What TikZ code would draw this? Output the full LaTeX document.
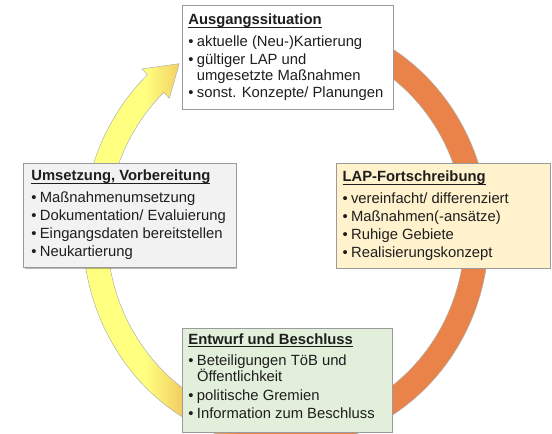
\documentclass[tikz,border=0pt]{standalone}
\usepackage{fontspec}
\setmainfont{Liberation Sans}
\usetikzlibrary{shadows}

\definecolor{ringyellow}{RGB}{255,255,128}
\definecolor{ringmid}{RGB}{242,200,96}
\definecolor{ringorange}{RGB}{233,131,74}
\definecolor{boxgray}{RGB}{242,242,242}
\definecolor{boxcream}{RGB}{255,242,204}
\definecolor{boxgreen}{RGB}{226,239,218}
\definecolor{edgegray}{RGB}{155,155,155}
\definecolor{inkdark}{RGB}{30,30,30}

% yellow on the left, orange on the right of the ring
\pgfdeclarehorizontalshading{ringshade}{100bp}{%
  color(0bp)=(ringyellow); color(34bp)=(ringyellow);
  color(38.5bp)=(ringmid); color(45bp)=(ringorange); color(100bp)=(ringorange)}

% bullet with a fixed indent, indent for wrapped lines, underlined heading
\newcommand{\itembul}{\makebox[6.4pt][l]{•}}
\newcommand{\wrapind}{\hspace*{6.4pt}}
\newcommand{\titleline}[1]{\setbox0\hbox{#1}\rlap{\rule[-2.2pt]{\wd0}{0.75pt}}\box0}

\begin{document}
\begin{tikzpicture}[x=0.75pt, y=-0.75pt,
  card/.style={draw=edgegray, line width=0.6pt, inner sep=0pt,
    drop shadow={shadow xshift=1.1pt, shadow yshift=-1.1pt, opacity=0.28, fill=black}},
  cardtext/.style={anchor=north west, inner sep=0pt, align=left, text=inkdark,
    font=\fontsize{11.1pt}{12pt}\selectfont},
  ringpath/.style={insert path={(o0) arc[start angle=-80, end angle=227, x radius=203, y radius=215]
    -- (ob) -- (tip) -- (ib) -- (i1)
    arc[start angle=227, end angle=-80, x radius=179, y radius=191] -- cycle}},
]
\useasboundingbox (0,0) rectangle (552,433);

% circular arrow running clockwise round the four stages
\coordinate (c) at (286,232);
\coordinate (o0) at ([shift={(-80:203 and 215)}]c);
\coordinate (i1) at ([shift={(227:179 and 191)}]c);
\coordinate (ob) at ([shift={(227:211 and 223)}]c);
\coordinate (ib) at ([shift={(227:171 and 183)}]c);
\coordinate (tip) at ([shift={(236:191 and 203)}]c);

\fill[black, opacity=0.2, xshift=1pt, yshift=-1.2pt, ringpath];
\path[shade, shading=ringshade, draw=black!30, line width=0.35pt, ringpath];

% stage boxes
\node[card, fill=white, minimum width=158.25pt, minimum height=78pt] (start) at (287.5,57) {};
\node[card, fill=boxgray, minimum width=159.4pt, minimum height=78.4pt] (impl) at (129.75,215.25) {};
\node[card, fill=boxcream, minimum width=160.5pt, minimum height=78.75pt] (update) at (443,215.5) {};
\node[card, fill=boxgreen, minimum width=157.5pt, minimum height=78pt] (draft) at (287,380) {};

% box texts
\node[cardtext] (starttext) at ([shift={(6.5,9.4)}]start.north west) {%
  \titleline{\textbf{Ausgangssituation}}\\[4.3pt]
  \itembul aktuelle (Neu-)Kartierung\\[1pt]
  \itembul gültiger LAP und\\
  \wrapind umgesetzte Maßnahmen\\[1pt]
  \itembul sonst. Konzepte/ Planungen};

\node[cardtext] (impltext) at ([shift={(8,7.1)}]impl.north west) {%
  \titleline{\textbf{Umsetzung, Vorbereitung}}\\[4pt]
  \itembul Maßnahmenumsetzung\\[1.7pt]
  \itembul Dokumentation/ Evaluierung\\[1.7pt]
  \itembul Eingangsdaten bereitstellen\\[1.7pt]
  \itembul Neukartierung};

\node[cardtext] (updatetext) at ([shift={(6.7,8.1)}]update.north west) {%
  \titleline{\textbf{LAP-Fortschreibung}}\\[4pt]
  \itembul vereinfacht/ differenziert\\[1.7pt]
  \itembul Maßnahmen(-ansätze)\\[1.7pt]
  \itembul Ruhige Gebiete\\[1.7pt]
  \itembul Realisierungskonzept};

\node[cardtext] (drafttext) at ([shift={(6.6,5.4)}]draft.north west) {%
  \titleline{\textbf{Entwurf und Beschluss}}\\[3.8pt]
  \itembul Beteiligungen TöB und\\
  \wrapind Öffentlichkeit\\[2.2pt]
  \itembul politische Gremien\\[1.8pt]
  \itembul Information zum Beschluss};
\end{tikzpicture}
\end{document}
